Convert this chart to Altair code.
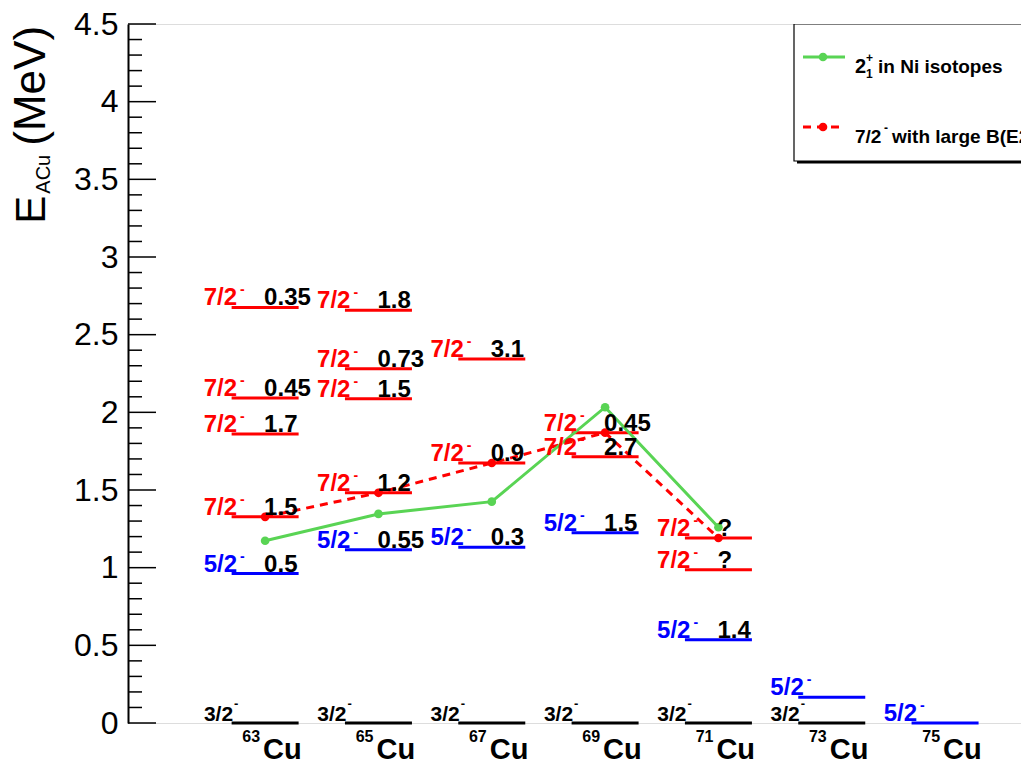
import altair as alt
import pandas as pd

FONT = "Liberation Sans"

# ---- data -------------------------------------------------------------
isotopes = [63, 65, 67, 69, 71, 73, 75]
mass_labels = ["63", "65", "67", "69", "71", "73", "75"]

level_A = [63, 63, 63, 63, 63, 63,
           65, 65, 65, 65, 65, 65,
           67, 67, 67, 67,
           69, 69, 69, 69,
           71, 71, 71, 71,
           73, 73,
           75]
level_E = [0.0, 0.962, 1.327, 1.861, 2.093, 2.675,
           0.0, 1.116, 1.482, 2.088, 2.281, 2.657,
           0.0, 1.131, 1.674, 2.344,
           0.0, 1.225, 1.714, 1.869,
           0.0, 0.536, 0.987, 1.191,
           0.0, 0.166,
           0.0]
level_spin = ["3/2", "5/2", "7/2", "7/2", "7/2", "7/2",
              "3/2", "5/2", "7/2", "7/2", "7/2", "7/2",
              "3/2", "5/2", "7/2", "7/2",
              "3/2", "5/2", "7/2", "7/2",
              "3/2", "5/2", "7/2", "7/2",
              "3/2", "5/2",
              "5/2"]
level_be2 = ["", "0.5", "1.5", "1.7", "0.45", "0.35",
             "", "0.55", "1.2", "1.5", "0.73", "1.8",
             "", "0.3", "0.9", "3.1",
             "", "1.5", "2.7", "0.45",
             "", "1.4", "?", "?",
             "", "",
             ""]

ni_A = [63, 65, 67, 69, 71]
ni_E = [1.173, 1.346, 1.425, 2.033, 1.260]

big72_A = [63, 65, 67, 69, 71]
big72_E = [1.327, 1.482, 1.674, 1.869, 1.191]

major_ticks = [0, 0.5, 1, 1.5, 2, 2.5, 3, 3.5, 4, 4.5]
minor_ticks = [round(i * 0.1, 1) for i in range(46) if i % 5 != 0]

# ---- frames -----------------------------------------------------------
levels = pd.DataFrame({"A": level_A, "E": level_E, "spin": level_spin, "be2": level_be2})
ground = levels[levels["spin"] == "3/2"]
excited = levels[levels["spin"] != "3/2"]
iso_df = pd.DataFrame({"A": isotopes, "mass": mass_labels})
ni_df = pd.DataFrame({"A": ni_A, "E": ni_E})
b72_df = pd.DataFrame({"A": big72_A, "E": big72_E})
major_df = pd.DataFrame({"E": major_ticks})
minor_df = pd.DataFrame({"E": minor_ticks})
one = pd.DataFrame({"k": [0]})

W, H = 893, 699
xs = alt.Scale(domain=[60.58, 76.34])
ys = alt.Scale(domain=[0, 4.5])
spin_color = alt.Color("spin:N", scale=alt.Scale(domain=["3/2", "5/2", "7/2"],
                                                 range=["#000000", "#0000ff", "#ff0000"]),
                       legend=None)
GREEN = "#59d454"
RED = "#ff0000"

X = alt.X("A:Q", scale=xs, axis=None)
Y = alt.Y("E:Q", scale=ys,
          axis=alt.Axis(values=major_ticks, format="~g", ticks=False,
                        domain=True, domainColor="black", domainWidth=2,
                        labelFontSize=32, labelFont=FONT, labelColor="black",
                        labelPadding=10, grid=False, title=None))

# level lines
level_lines = alt.Chart(levels).mark_tick(orient="horizontal", size=67, thickness=3, opacity=1).encode(
    x=X, y=Y, color=spin_color)

major_rules = alt.Chart(major_df).mark_rule(color="black", strokeWidth=1.5).encode(
    y=Y, x=alt.value(0), x2=alt.value(28))
minor_rules = alt.Chart(minor_df).mark_rule(color="black", strokeWidth=1.5).encode(
    y=Y, x=alt.value(0), x2=alt.value(14))

# spin labels
spin_exc = alt.Chart(excited).mark_text(align="right", baseline="alphabetic", dx=-28, dy=-2,
                                        font=FONT, fontWeight="bold", fontSize=24).encode(
    x=X, y=Y, text="spin:N", color=spin_color)
spin_exc_sup = alt.Chart(excited).mark_text(align="left", baseline="alphabetic", dx=-25, dy=-13,
                                            font=FONT, fontWeight="bold", fontSize=14, text="-").encode(
    x=X, y=Y, color=spin_color)
spin_gnd = alt.Chart(ground).mark_text(align="right", baseline="alphabetic", dx=-32, dy=-2,
                                       font=FONT, fontWeight="bold", fontSize=21).encode(
    x=X, y=Y, text="spin:N", color=spin_color)
spin_gnd_sup = alt.Chart(ground).mark_text(align="left", baseline="alphabetic", dx=-31, dy=-15,
                                           font=FONT, fontWeight="bold", fontSize=13, text="-").encode(
    x=X, y=Y, color=spin_color)

be2_text = alt.Chart(excited).mark_text(align="left", baseline="alphabetic", dx=-1, dy=-2,
                                        font=FONT, fontWeight="bold", fontSize=24, color="black").encode(
    x=X, y=Y, text="be2:N")

# Ni 2+ line and 7/2- line
ni_line = alt.Chart(ni_df).mark_line(color=GREEN, strokeWidth=3).encode(x=X, y=Y)
ni_pts = alt.Chart(ni_df).mark_point(filled=True, color=GREEN, size=75, opacity=1).encode(x=X, y=Y)
b72_line = alt.Chart(b72_df).mark_line(color=RED, strokeWidth=3, strokeDash=[8, 6]).encode(x=X, y=Y)
b72_pts = alt.Chart(b72_df).mark_point(filled=True, color=RED, size=75, opacity=1).encode(x=X, y=Y)

# isotope names under the axis
cu_text = alt.Chart(iso_df).mark_text(align="left", baseline="alphabetic", dx=-2, text="Cu",
                                      font=FONT, fontWeight="bold", fontSize=29, color="black").encode(
    x=X, y=alt.value(734.7))
mass_text = alt.Chart(iso_df).mark_text(align="right", baseline="alphabetic", dx=-5,
                                        font=FONT, fontWeight="bold", fontSize=16, color="black").encode(
    x=X, y=alt.value(717.7), text="mass:N")


# y title  E_{ACu} (MeV)
def ytxt(t, x, y, size):
    return alt.Chart(one).mark_text(text=t, angle=270, align="left", baseline="alphabetic",
                                    font=FONT, fontSize=size, color="black").encode(
        x=alt.value(x), y=alt.value(y))


title_layers = [ytxt("E", -83, 199.7, 42), ytxt("ACu", -78, 169.7, 20), ytxt("(MeV)", -83, 121.7, 44)]

# legend box
leg_shadow = alt.Chart(one).mark_rect(color="black", clip=True).encode(
    x=alt.value(669), x2=alt.value(910), y=alt.value(136), y2=alt.value(139.5))
leg_box = alt.Chart(one).mark_rect(fill="white", stroke="black", strokeWidth=1.2, clip=True).encode(
    x=alt.value(666), x2=alt.value(910), y=alt.value(0), y2=alt.value(137))
leg_g_line = alt.Chart(one).mark_rule(color=GREEN, strokeWidth=3).encode(
    x=alt.value(675), x2=alt.value(717), y=alt.value(33))
leg_g_pt = alt.Chart(one).mark_point(filled=True, color=GREEN, size=75, opacity=1).encode(
    x=alt.value(695), y=alt.value(33))
leg_r_line = alt.Chart(one).mark_rule(color=RED, strokeWidth=3, strokeDash=[8, 6]).encode(
    x=alt.value(675), x2=alt.value(717), y=alt.value(103))
leg_r_pt = alt.Chart(one).mark_point(filled=True, color=RED, size=75, opacity=1).encode(
    x=alt.value(695), y=alt.value(103))


def ltxt(t, x, y, size):
    return alt.Chart(one).mark_text(text=t, align="left", baseline="alphabetic", font=FONT,
                                    fontWeight="bold", fontSize=size, color="black", clip=True).encode(
        x=alt.value(x), y=alt.value(y))


legend_text = [
    ltxt("2", 727, 49, 20), ltxt("+", 738, 38, 12), ltxt("1", 738, 54, 12),
    ltxt("in Ni isotopes", 750, 49, 19),
    ltxt("7/2", 727, 119, 19), ltxt("-", 756, 108, 12),
    ltxt("with large B(E2)", 764, 119, 19),
]

chart = alt.layer(
    level_lines, major_rules, minor_rules,
    b72_line, ni_line, b72_pts, ni_pts,
    spin_exc, spin_exc_sup, spin_gnd, spin_gnd_sup, be2_text,
    cu_text, mass_text, *title_layers,
    leg_shadow, leg_box, leg_g_line, leg_g_pt, leg_r_line, leg_r_pt, *legend_text,
).properties(
    width=W, height=H,
    autosize=alt.AutoSizeParams(type="none"),
    padding={"left": 120, "top": 16, "right": 0, "bottom": 40},
).configure_view(strokeWidth=0).configure(background="white")

chart.save("out.html", embed_options={"renderer": "svg", "actions": False})
